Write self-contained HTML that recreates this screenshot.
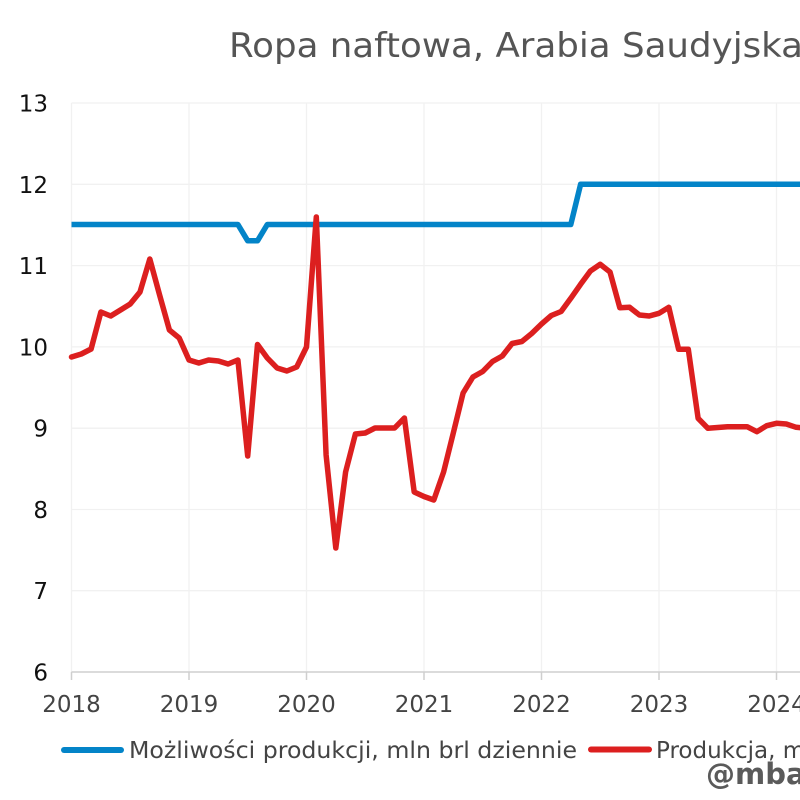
<!DOCTYPE html>
<html>
<head>
<meta charset="utf-8">
<style>
  html,body{margin:0;padding:0;background:#fff;}
  body{width:800px;height:800px;overflow:hidden;}
  svg{display:block;}
  text{font-family:"DejaVu Sans","Liberation Sans",sans-serif;}
</style>
</head>
<body>
<svg width="800" height="800" viewBox="0 0 800 800" xmlns="http://www.w3.org/2000/svg">
  <rect width="800" height="800" fill="#fff"/>
  <!-- title -->
  <text x="229" y="57" font-size="34" fill="#555" textLength="574" lengthAdjust="spacingAndGlyphs">Ropa naftowa, Arabia Saudyjska</text>

  <!-- horizontal gridlines -->
  <g stroke="#f1f1f1" stroke-width="1.3">
    <line x1="71.5" y1="103" x2="800" y2="103"/>
    <line x1="71.5" y1="184.3" x2="800" y2="184.3"/>
    <line x1="71.5" y1="265.6" x2="800" y2="265.6"/>
    <line x1="71.5" y1="346.9" x2="800" y2="346.9"/>
    <line x1="71.5" y1="428.2" x2="800" y2="428.2"/>
    <line x1="71.5" y1="509.5" x2="800" y2="509.5"/>
    <line x1="71.5" y1="590.7" x2="800" y2="590.7"/>
  </g>
  <!-- vertical gridlines -->
  <g stroke="#f1f1f1" stroke-width="1.3">
    <line x1="71.5" y1="103" x2="71.5" y2="672"/>
    <line x1="189" y1="103" x2="189" y2="672"/>
    <line x1="306.5" y1="103" x2="306.5" y2="672"/>
    <line x1="424" y1="103" x2="424" y2="672"/>
    <line x1="541.5" y1="103" x2="541.5" y2="672"/>
    <line x1="659" y1="103" x2="659" y2="672"/>
    <line x1="776.5" y1="103" x2="776.5" y2="672"/>
  </g>
  <!-- x axis -->
  <g stroke="#cfcfcf" stroke-width="1.5">
    <line x1="71.5" y1="672" x2="800" y2="672"/>
    <line x1="71.5" y1="672" x2="71.5" y2="680"/>
    <line x1="189" y1="672" x2="189" y2="680"/>
    <line x1="306.5" y1="672" x2="306.5" y2="680"/>
    <line x1="424" y1="672" x2="424" y2="680"/>
    <line x1="541.5" y1="672" x2="541.5" y2="680"/>
    <line x1="659" y1="672" x2="659" y2="680"/>
    <line x1="776.5" y1="672" x2="776.5" y2="680"/>
  </g>

  <!-- y labels -->
  <g font-size="23" fill="#111" text-anchor="end">
    <text x="48" y="111.5">13</text>
    <text x="48" y="192.8">12</text>
    <text x="48" y="274.1">11</text>
    <text x="48" y="355.4">10</text>
    <text x="48" y="436.7">9</text>
    <text x="48" y="518">8</text>
    <text x="48" y="599.2">7</text>
    <text x="48" y="680.5">6</text>
  </g>
  <!-- x labels -->
  <g font-size="23" fill="#444" text-anchor="middle">
    <text x="71.5" y="712">2018</text>
    <text x="189" y="712">2019</text>
    <text x="306.5" y="712">2020</text>
    <text x="424" y="712">2021</text>
    <text x="541.5" y="712">2022</text>
    <text x="659" y="712">2023</text>
    <text x="776.5" y="712">2024</text>
  </g>

  <!-- blue series -->
  <polyline fill="none" stroke="#0384c8" stroke-width="5.5" stroke-linejoin="round" stroke-linecap="butt"
    points="71.5,224.5 237.9,224.5 247.7,240.8 257.5,240.8 267.3,224.5 570.8,224.5 580.6,184.3 805,184.3"/>

  <!-- red series -->
  <polyline fill="none" stroke="#dc1f1f" stroke-width="5.5" stroke-linejoin="round" stroke-linecap="round"
    points="71.5,357 81.3,354 91.1,349 100.9,312 110.7,316 120.5,310 130.2,304 140,292 149.8,259 159.6,295 169.4,330 179.2,338 189,360 198.8,363 208.6,360 218.4,361 228.1,364 237.9,360 247.7,456 257.5,344.5 267.3,358 277.1,368 286.9,371 296.7,367 306.5,347 316.3,217 326.1,455 335.8,548 345.6,472 355.4,434 365.2,433 375,428 384.8,428 394.6,428 404.4,418 414.2,492 424,496.5 433.8,500 443.6,472 453.3,433 463.1,393 472.9,377 482.7,371.5 492.5,361.5 502.3,356 512.1,343.5 521.9,341.5 531.7,333.5 541.5,324 551.3,315.5 561.1,311.5 570.8,298.3 580.6,284.3 590.4,271 600.2,264.3 610,272 619.8,307.7 629.6,307.3 639.4,315 649.2,316 659,313.3 668.8,307.3 678.6,349.3 688.3,349.3 698.1,418.3 707.9,428.3 717.7,427.5 727.5,426.7 737.3,426.7 747.1,426.7 756.9,431.7 766.7,425.7 776.5,423.3 786.3,424 796.1,427.3 805.9,428"/>

  <!-- legend -->
  <line x1="64" y1="750" x2="121" y2="750" stroke="#0384c8" stroke-width="6" stroke-linecap="round"/>
  <text x="129" y="758" font-size="23" fill="#444" textLength="448" lengthAdjust="spacingAndGlyphs">Możliwości produkcji, mln brl dziennie</text>
  <line x1="591" y1="749.5" x2="649" y2="749.5" stroke="#dc1f1f" stroke-width="6" stroke-linecap="round"/>
  <text x="656" y="758" font-size="23" fill="#444">Produkcja, mln brl dziennie</text>

  <!-- watermark -->
  <text x="706" y="784" font-size="29" font-weight="bold" fill="#5a5a5a">@mbank_research</text>
</svg>
</body>
</html>
